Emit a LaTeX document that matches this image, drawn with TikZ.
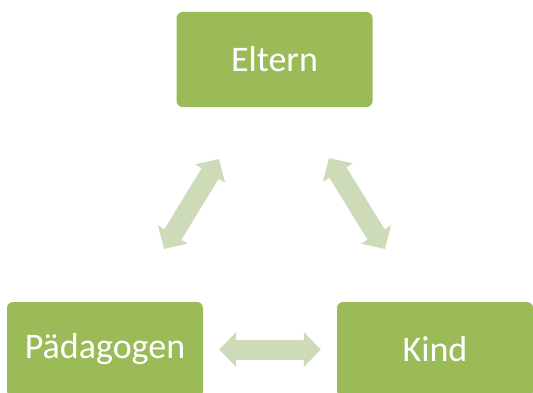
\documentclass[tikz,border=0pt]{standalone}
\usepackage{fontspec}
\setmainfont{Carlito}
\usetikzlibrary{arrows.meta}
\definecolor{boxgreen}{HTML}{9BBB59}
\definecolor{arrowgreen}{HTML}{CDDBB8}
\begin{document}
\begin{tikzpicture}[x=1pt, y=1pt,
    groupbox/.style={fill=boxgreen, rounded corners=6pt, minimum width=196pt,
        minimum height=95pt, text=white, font=\fontsize{36}{40}\selectfont},
    biarrow/.style={arrowgreen, line width=20pt,
        {Triangle[width=34pt,length=17pt]}-{Triangle[width=34pt,length=17pt]}}]
    % page size of the reference
    \useasboundingbox (0,0) rectangle (533,392);

    % the three groups
    \node[groupbox] (eltern) at (274.5,332.5) {Eltern};
    \node[groupbox] (paed) at (105,42.5) {Pädagogen};
    \node[groupbox] (kind) at (435,42.5) {Kind};

    % ends of the double arrows
    \coordinate (pe1) at (164,143);
    \coordinate (pe2) at (219,233);
    \coordinate (ek1) at (329,234);
    \coordinate (ek2) at (385,143);

    % arrows between the groups
    \draw[biarrow] (pe1) -- (pe2);
    \draw[biarrow] (ek1) -- (ek2);
    \draw[biarrow, shorten <=16pt, shorten >=16pt] (paed.east) -- (kind.west);
\end{tikzpicture}
\end{document}
